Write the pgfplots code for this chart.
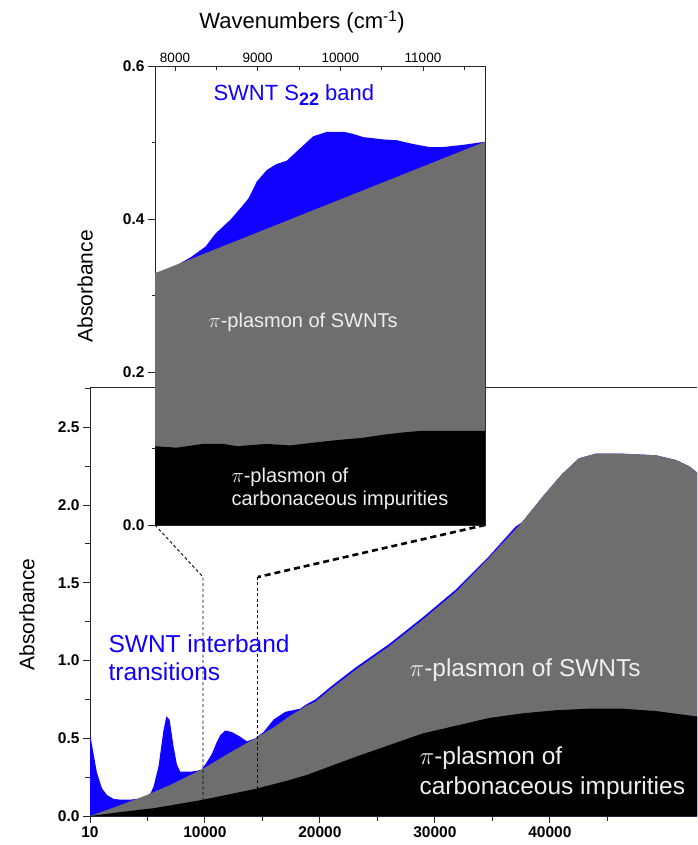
\documentclass[border=0pt]{standalone}
\usepackage{pgfplots}
\pgfplotsset{compat=1.18}
\usepackage{fontspec}
\setmainfont{Liberation Sans}
\definecolor{swblue}{RGB}{16,0,255}
\definecolor{swgray}{RGB}{110,110,110}
\definecolor{lighttext}{RGB}{238,238,238}
\pgfplotsset{scaled ticks=false}

\pgfplotstableread{
x y
10 0.52
150 0.47
320 0.40
610 0.28
1040 0.18
1480 0.135
2060 0.11
2640 0.105
3500 0.105
4090 0.11
4960 0.125
5300 0.15
5540 0.19
5970 0.32
6400 0.55
6640 0.64
6930 0.62
7270 0.45
7570 0.33
7860 0.285
8720 0.285
9300 0.29
9740 0.30
10200 0.35
10610 0.40
11000 0.47
11330 0.52
11770 0.55
12350 0.54
13070 0.51
13650 0.48
14380 0.50
15100 0.54
15970 0.62
16990 0.67
18290 0.69
18870 0.72
19620 0.75
21000 0.835
23100 0.955
26000 1.105
28900 1.275
31800 1.455
34700 1.67
37000 1.86
37590 1.89
39330 2.05
41070 2.20
42520 2.30
43970 2.33
46290 2.33
49190 2.32
50930 2.29
52090 2.25
52790 2.21
}\mainblue

\pgfplotstableread{
x y
10 0
2640 0.07
4960 0.135
7000 0.20
9740 0.30
12000 0.40
14380 0.50
16000 0.57
17300 0.64
18870 0.71
19620 0.735
21000 0.82
23100 0.94
26000 1.09
28900 1.26
31800 1.44
34700 1.66
37590 1.89
39330 2.05
41070 2.20
42520 2.30
43970 2.33
46290 2.33
49190 2.32
50930 2.29
52090 2.25
52790 2.21
}\maingray

\pgfplotstableread{
x y
10 0
2640 0.025
5540 0.05
9740 0.103
14380 0.174
17300 0.23
18870 0.264
23100 0.38
28900 0.53
34700 0.63
37600 0.66
40490 0.68
43390 0.69
46290 0.69
49190 0.675
52790 0.64
}\mainblack

\pgfplotstableread{
x y
7758 0.329
7980 0.337
8190 0.350
8370 0.364
8490 0.381
8670 0.399
8790 0.414
8890 0.427
8990 0.449
9110 0.464
9230 0.472
9350 0.476
9470 0.488
9670 0.508
9840 0.514
10040 0.514
10160 0.511
10280 0.507
10520 0.504
10680 0.503
10880 0.498
11080 0.494
11240 0.494
11490 0.497
11750 0.501
}\insetblue

\pgfplotstableread{
x y
7758 0.329
11750 0.501
}\insetgray

\pgfplotstableread{
x y
7758 0.103
8020 0.101
8340 0.106
8580 0.106
8750 0.103
9110 0.106
9390 0.104
9630 0.107
9960 0.111
10280 0.114
10520 0.118
10760 0.121
10970 0.123
11530 0.123
11750 0.123
}\insetblack

\begin{document}
\begin{tikzpicture}[x=1pt,y=1pt]
\useasboundingbox (0,0) rectangle (697,845);
% ---------------- main axis ----------------
\begin{axis}[
  name=main, at={(90pt,29pt)}, anchor=south west,
  width=607pt, height=429pt, scale only axis,
  xmin=10, xmax=52790, ymin=0, ymax=2.759,
  axis x line*=bottom, axis y line*=left,
  axis line style={line width=0.9pt, black!85},
  tick align=outside,
  major tick length=7pt, minor tick length=5pt,
  every tick/.style={black!85, line width=0.9pt},
  xtick={10,10000,20000,30000,40000},
  xticklabels={10,10000,20000,30000,40000},
  minor xtick={5000,15000,25000,35000,45000},
  ytick={0,0.5,1,1.5,2,2.5},
  yticklabels={0.0,0.5,1.0,1.5,2.0,2.5},
  minor ytick={0.25,0.75,1.25,1.75,2.25,2.75},
  ticklabel style={font=\fontsize{15.5}{18}\selectfont\bfseries},
  ylabel={Absorbance},
  ylabel style={at={(axis description cs:-0.104,0.47)}, anchor=center, font=\fontsize{21}{24}\selectfont},
]
\addplot[fill=swblue, draw=none] table[x=x,y=y] {\mainblue} \closedcycle;
\addplot[fill=swgray, draw=none] table[x=x,y=y] {\maingray} \closedcycle;
\addplot[fill=black, draw=none] table[x=x,y=y] {\mainblack} \closedcycle;
\end{axis}
\draw[line width=0.9pt, black!85] (main.north west) -- (main.north east);

% connecting dashed lines
\draw[line width=0.9pt, dash pattern=on 3pt off 2.5pt] (155,320) -- (203,268) -- (203,45);
\draw[line width=2.6pt, dash pattern=on 6pt off 4pt] (485,320) -- (258,268);
\draw[line width=0.9pt, dash pattern=on 3pt off 2.5pt] (257,268) -- (257,56);

% main annotations
\node[anchor=west, align=left, text=swblue, font=\fontsize{24.5}{28}\selectfont] at (105,187) {SWNT interband\\transitions};
\node[anchor=west, text=lighttext, font=\fontsize{24.5}{28}\selectfont] at (406,175) {$\pi$-plasmon of SWNTs};
\node[anchor=west, align=left, text=lighttext, font=\fontsize{24.5}{30}\selectfont] at (416,72) {$\pi$-plasmon of\\carbonaceous impurities};

% ---------------- inset axis ----------------
\begin{axis}[
  name=inset, at={(155pt,320pt)}, anchor=south west,
  width=330pt, height=459pt, scale only axis,
  xmin=7758, xmax=11750, ymin=0, ymax=0.6,
  axis background/.style={fill=white},
  axis line style={line width=0.9pt, black!85},
  tick align=outside,
  major tick length=7pt, minor tick length=3.5pt,
  every tick/.style={black!85, line width=0.9pt},
  xtick=\empty,
  ytick pos=left,
  ytick={0,0.2,0.4,0.6},
  yticklabels={0.0,0.2,0.4,0.6},
  minor ytick={0.1,0.3,0.5},
  yticklabel style={font=\fontsize{15.5}{18}\selectfont\bfseries},
  ylabel={Absorbance},
  ylabel style={at={(axis description cs:-0.212,0.52)}, anchor=center, font=\fontsize{21}{24}\selectfont},
]
\addplot[fill=swblue, draw=none] table[x=x,y=y] {\insetblue} \closedcycle;
\addplot[fill=swgray, draw=none] table[x=x,y=y] {\insetgray} \closedcycle;
\addplot[fill=black, draw=none] table[x=x,y=y] {\insetblack} \closedcycle;
\end{axis}
\begin{axis}[
  at={(155pt,320pt)}, anchor=south west,
  width=330pt, height=459pt, scale only axis,
  xmin=7758, xmax=11750, ymin=0, ymax=0.6,
  axis x line*=top, hide y axis,
  axis line style={line width=0.9pt, black!85},
  tick align=inside,
  major tick length=5.5pt, minor tick length=4.5pt,
  every tick/.style={black!85, line width=0.9pt},
  xtick={8000,9000,10000,11000},
  xticklabels={8000,9000,10000,11000},
  minor xtick={8500,9500,10500,11500},
  xticklabel style={font=\fontsize{13.5}{16}\selectfont},
]
\end{axis}

% inset annotations
\node[anchor=center, font=\fontsize{22}{24}\selectfont] at (302,823) {Wavenumbers (cm\textsuperscript{-1})};
\node[anchor=west, text=swblue, font=\fontsize{22}{24}\selectfont] at (210,750) {SWNT S\raisebox{-0.4ex}{\fontsize{18}{20}\selectfont\bfseries 22} band};
\node[anchor=west, text=lighttext, font=\fontsize{20}{23}\selectfont] at (205,523) {$\pi$-plasmon of SWNTs};
\node[anchor=west, align=left, text=lighttext, font=\fontsize{20}{23}\selectfont] at (228,356) {$\pi$-plasmon of\\carbonaceous impurities};
\end{tikzpicture}
\end{document}
